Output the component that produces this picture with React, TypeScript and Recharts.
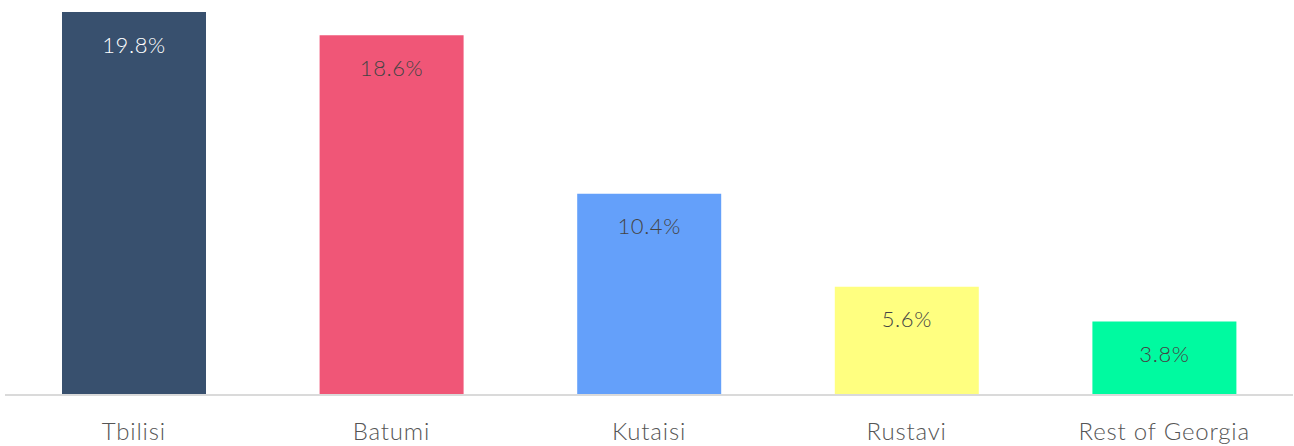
import React from 'react';
import { BarChart, Bar, XAxis, YAxis, Cell, LabelList } from 'recharts';

const cities = ['Tbilisi', 'Batumi', 'Kutaisi', 'Rustavi', 'Rest of Georgia'];
const shares = [19.8, 18.6, 10.4, 5.6, 3.8];
const barColors = ['#38506E', '#F05677', '#64A0FA', '#FFFF80', '#00FAA0'];
const labelColors = ['#FFFFFF', '#444444', '#444444', '#444444', '#444444'];

const FONT = 'Lato, "Open Sans", sans-serif';

export default function App() {
    const data = cities.map((name, i) => ({ name, value: shares[i], idx: i }));

    const renderLabel = (props: any) => {
        const { x, y, width, value, index } = props;
        return (
            <text
                x={x + width / 2}
                y={y + 32}
                textAnchor="middle"
                dominantBaseline="central"
                fill={labelColors[index]}
                style={{ fontSize: 22, fontFamily: FONT, fontWeight: 300, letterSpacing: 0.6 }}
            >
                {`${value}%`}
            </text>
        );
    };

    return (
        <div style={{ position: 'absolute', left: 0, top: 0, width: 1294, height: 446, background: '#fff' }}>
            <BarChart
                width={1294}
                height={446}
                data={data}
                margin={{ top: 12, right: 1, left: 5, bottom: 0 }}
                barSize={144}
            >
                <XAxis
                    dataKey="name"
                    height={51}
                    axisLine={{ stroke: '#DADADA', strokeWidth: 2 }}
                    tickLine={false}
                    interval={0}
                    tickMargin={22}
                    tick={{ fill: '#555555', fontSize: 24, fontFamily: FONT, fontWeight: 300, letterSpacing: 0.8 }}
                />
                <YAxis hide domain={[0, 19.8]} />
                <Bar dataKey="value" isAnimationActive={false}>
                    {data.map((d) => (
                        <Cell key={d.name} fill={barColors[d.idx]} />
                    ))}
                    <LabelList dataKey="value" content={renderLabel} />
                </Bar>
            </BarChart>
        </div>
    );
}
